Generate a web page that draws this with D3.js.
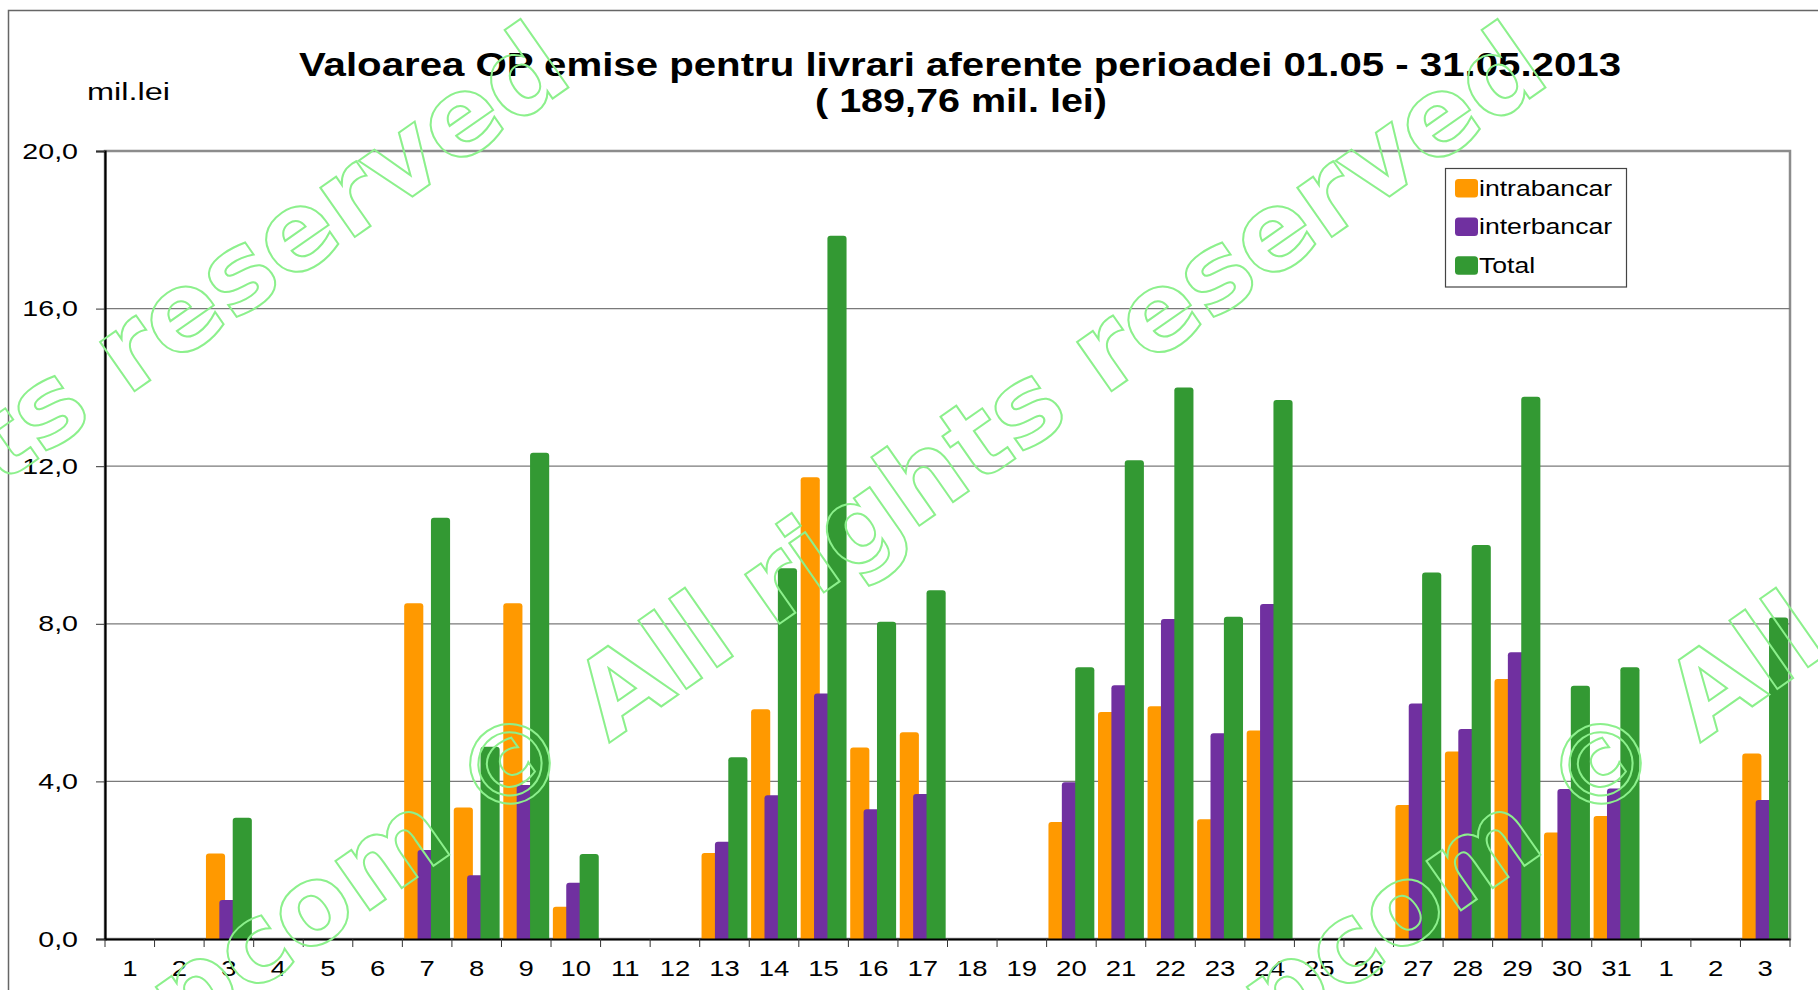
<!DOCTYPE html>
<html>
<head>
<meta charset="utf-8">
<script src="https://cdn.jsdelivr.net/npm/d3@7"></script>
<style>
  html, body { margin: 0; padding: 0; background: #fff; }
  svg { display: block; }
</style>
</head>
<body>
<svg width="1818" height="990"></svg>
<script>
(function (d3) {
  'use strict';

  // zile (mai 2013 + primele zile din iunie)
  var days = ['1','2','3','4','5','6','7','8','9','10','11','12','13','14','15','16','17',
    '18','19','20','21','22','23','24','25','26','27','28','29','30','31','1','2','3'];

  var intrabancar = [null, null, 2.17, null, null, null, 8.52, 3.34, 8.52, 0.82, null, null,
    2.18, 5.83, 11.72, 4.86, 5.25, null, null, 2.97, 5.76, 5.91, 3.04, 5.29, null, null,
    3.40, 4.76, 6.60, 2.70, 3.12, null, null, 4.71];

  var interbancar = [null, null, 0.99, null, null, null, 2.26, 1.62, 3.91, 1.43, null, null,
    2.47, 3.65, 6.23, 3.29, 3.68, null, null, 3.98, 6.44, 8.12, 5.22, 8.50, null, null,
    5.98, 5.33, 7.28, 3.81, 3.82, null, null, 3.53];

  var total = [null, null, 3.08, null, null, null, 10.69, 4.88, 12.34, 2.16, null, null,
    4.61, 9.41, 17.85, 8.05, 8.85, null, null, 6.90, 12.15, 14.00, 8.18, 13.68, null, null,
    9.30, 10.00, 13.76, 6.43, 6.90, null, null, 8.16];

  var seriesNames = ['intrabancar', 'interbancar', 'Total'];
  var seriesColors = ['#ff9900', '#7030a0', '#339933'];
  var yTicks = [0, 4, 8, 12, 16, 20];

  var title1 = 'Valoarea OP emise pentru livrari aferente perioadei 01.05 - 31.05.2013';
  var title2 = '( 189,76 mil. lei)';

  var svg = d3.select('svg');
  var font = '"Liberation Sans", Arial, sans-serif';

  var left = 105, right = 1790, top = 151, bottom = 939;

  var x = d3.scaleBand().domain(d3.range(days.length)).range([left, right]).padding(0);
  var y = d3.scaleLinear().domain([0, 20]).range([bottom, top]);

  // chart frame
  svg.append('rect')
    .attr('x', 8.5).attr('y', 10.5).attr('width', 1830).attr('height', 1000)
    .attr('fill', '#fff').attr('stroke', '#666').attr('stroke-width', 1.5);

  // titles
  svg.append('text')
    .attr('x', 299).attr('y', 76)
    .attr('font-family', font).attr('font-weight', 'bold').attr('font-size', 33)
    .attr('textLength', 1322).attr('lengthAdjust', 'spacingAndGlyphs')
    .text(title1);
  svg.append('text')
    .attr('x', 815).attr('y', 112)
    .attr('font-family', font).attr('font-weight', 'bold').attr('font-size', 33)
    .attr('textLength', 292).attr('lengthAdjust', 'spacingAndGlyphs')
    .text(title2);
  svg.append('text')
    .attr('x', 87).attr('y', 99.5)
    .attr('font-family', font).attr('font-size', 23)
    .attr('textLength', 83).attr('lengthAdjust', 'spacingAndGlyphs')
    .text('mil.lei');

  // plot area border
  svg.append('rect')
    .attr('x', left).attr('y', top).attr('width', right - left).attr('height', bottom - top)
    .attr('fill', 'none').attr('stroke', '#8c8c8c').attr('stroke-width', 2.5);

  // gridlines
  svg.append('g').selectAll('line').data(yTicks.slice(1, -1))
    .enter().append('line')
      .attr('x1', left).attr('x2', right)
      .attr('y1', function (d) { return y(d); }).attr('y2', function (d) { return y(d); })
      .attr('stroke', '#7a7a7a').attr('stroke-width', 1.2);

  // bars
  var bw = x.bandwidth() * 0.386, step = x.bandwidth() * 0.27;
  var series = [intrabancar, interbancar, total];

  function barPath(bx, by, w, h) {
    var r = Math.min(3, h / 2, w / 2);
    return 'M' + bx + ',' + (by + h) + 'V' + (by + r) +
      'Q' + bx + ',' + by + ' ' + (bx + r) + ',' + by +
      'H' + (bx + w - r) +
      'Q' + (bx + w) + ',' + by + ' ' + (bx + w) + ',' + (by + r) +
      'V' + (by + h) + 'Z';
  }

  series.forEach(function (vals, si) {
    var pts = vals.map(function (v, i) { return {i: i, v: v}; })
      .filter(function (p) { return p.v != null; });
    svg.append('g').selectAll('path').data(pts)
      .enter().append('path')
        .attr('fill', seriesColors[si])
        .attr('d', function (p) {
          var cx = x(p.i) + x.bandwidth() / 2 + (si - 1) * step;
          return barPath(cx - bw / 2, y(p.v), bw, y(0) - y(p.v));
        });
  });

  // y axis
  var yAxis = svg.append('g')
    .attr('transform', 'translate(' + left + ',0)')
    .call(d3.axisLeft(y).tickValues(yTicks).tickSize(9).tickPadding(18)
      .tickFormat(function (d) { return d3.format('.1f')(d).replace('.', ','); }));
  yAxis.select('.domain').attr('stroke', '#000').attr('stroke-width', 2.2);
  yAxis.selectAll('.tick line').attr('stroke', '#333');
  yAxis.selectAll('text')
    .attr('font-family', font).attr('font-size', 22).attr('fill', '#000')
    .attr('x', -27 / 1.3)
    .attr('transform', 'scale(1.3,1)');

  // x axis
  var xAxis = svg.append('g')
    .attr('transform', 'translate(0,' + bottom + ')')
    .call(d3.axisBottom(x).tickSize(0).tickPadding(21)
      .tickFormat(function (i) { return days[i]; }));
  xAxis.select('.domain').attr('stroke', '#000').attr('stroke-width', 2.2);
  xAxis.selectAll('text')
    .attr('font-family', font).attr('font-size', 22).attr('fill', '#000')
    .attr('transform', 'scale(1.25,1)');

  // category boundary ticks
  xAxis.append('g').selectAll('line').data(d3.range(days.length + 1))
    .enter().append('line')
      .attr('x1', function (i) { return left + i * x.step(); })
      .attr('x2', function (i) { return left + i * x.step(); })
      .attr('y1', 0).attr('y2', 8)
      .attr('stroke', '#333');

  // legend
  var legend = svg.append('g');
  legend.append('rect')
    .attr('x', 1445.5).attr('y', 168.5).attr('width', 181).attr('height', 118.5)
    .attr('fill', '#fff').attr('stroke', '#444').attr('stroke-width', 1.2);
  var items = legend.selectAll('g.item').data(seriesNames)
    .enter().append('g')
      .attr('class', 'item')
      .attr('transform', function (d, i) { return 'translate(1455,' + (195.7 + i * 38.6) + ')'; });
  items.append('rect')
    .attr('x', 0).attr('y', -16.7).attr('width', 23).attr('height', 18.5)
    .attr('rx', 3.5)
    .attr('fill', function (d, i) { return seriesColors[i]; });
  items.append('text')
    .attr('x', 24 / 1.21).attr('y', 0)
    .attr('transform', 'scale(1.21,1)')
    .attr('font-family', font).attr('font-size', 22)
    .text(function (d) { return d; });

  // watermark
  var wm = svg.append('g')
    .attr('fill', 'none').attr('stroke', '#8cf08c').attr('stroke-width', 2)
    .attr('font-family', '"DejaVu Sans", sans-serif').attr('font-weight', 'bold')
    .attr('font-size', 110);
  [-368, 609, 1700].forEach(function (ax) {
    var g = wm.append('g').attr('transform', 'translate(' + ax + ',743) rotate(-35)');
    g.append('text').attr('x', -38).attr('text-anchor', 'end').text('opcom \u00a9');
    g.append('text').attr('x', 0).text('All rights reserved');
  });

}(d3));
</script>
</body>
</html>
